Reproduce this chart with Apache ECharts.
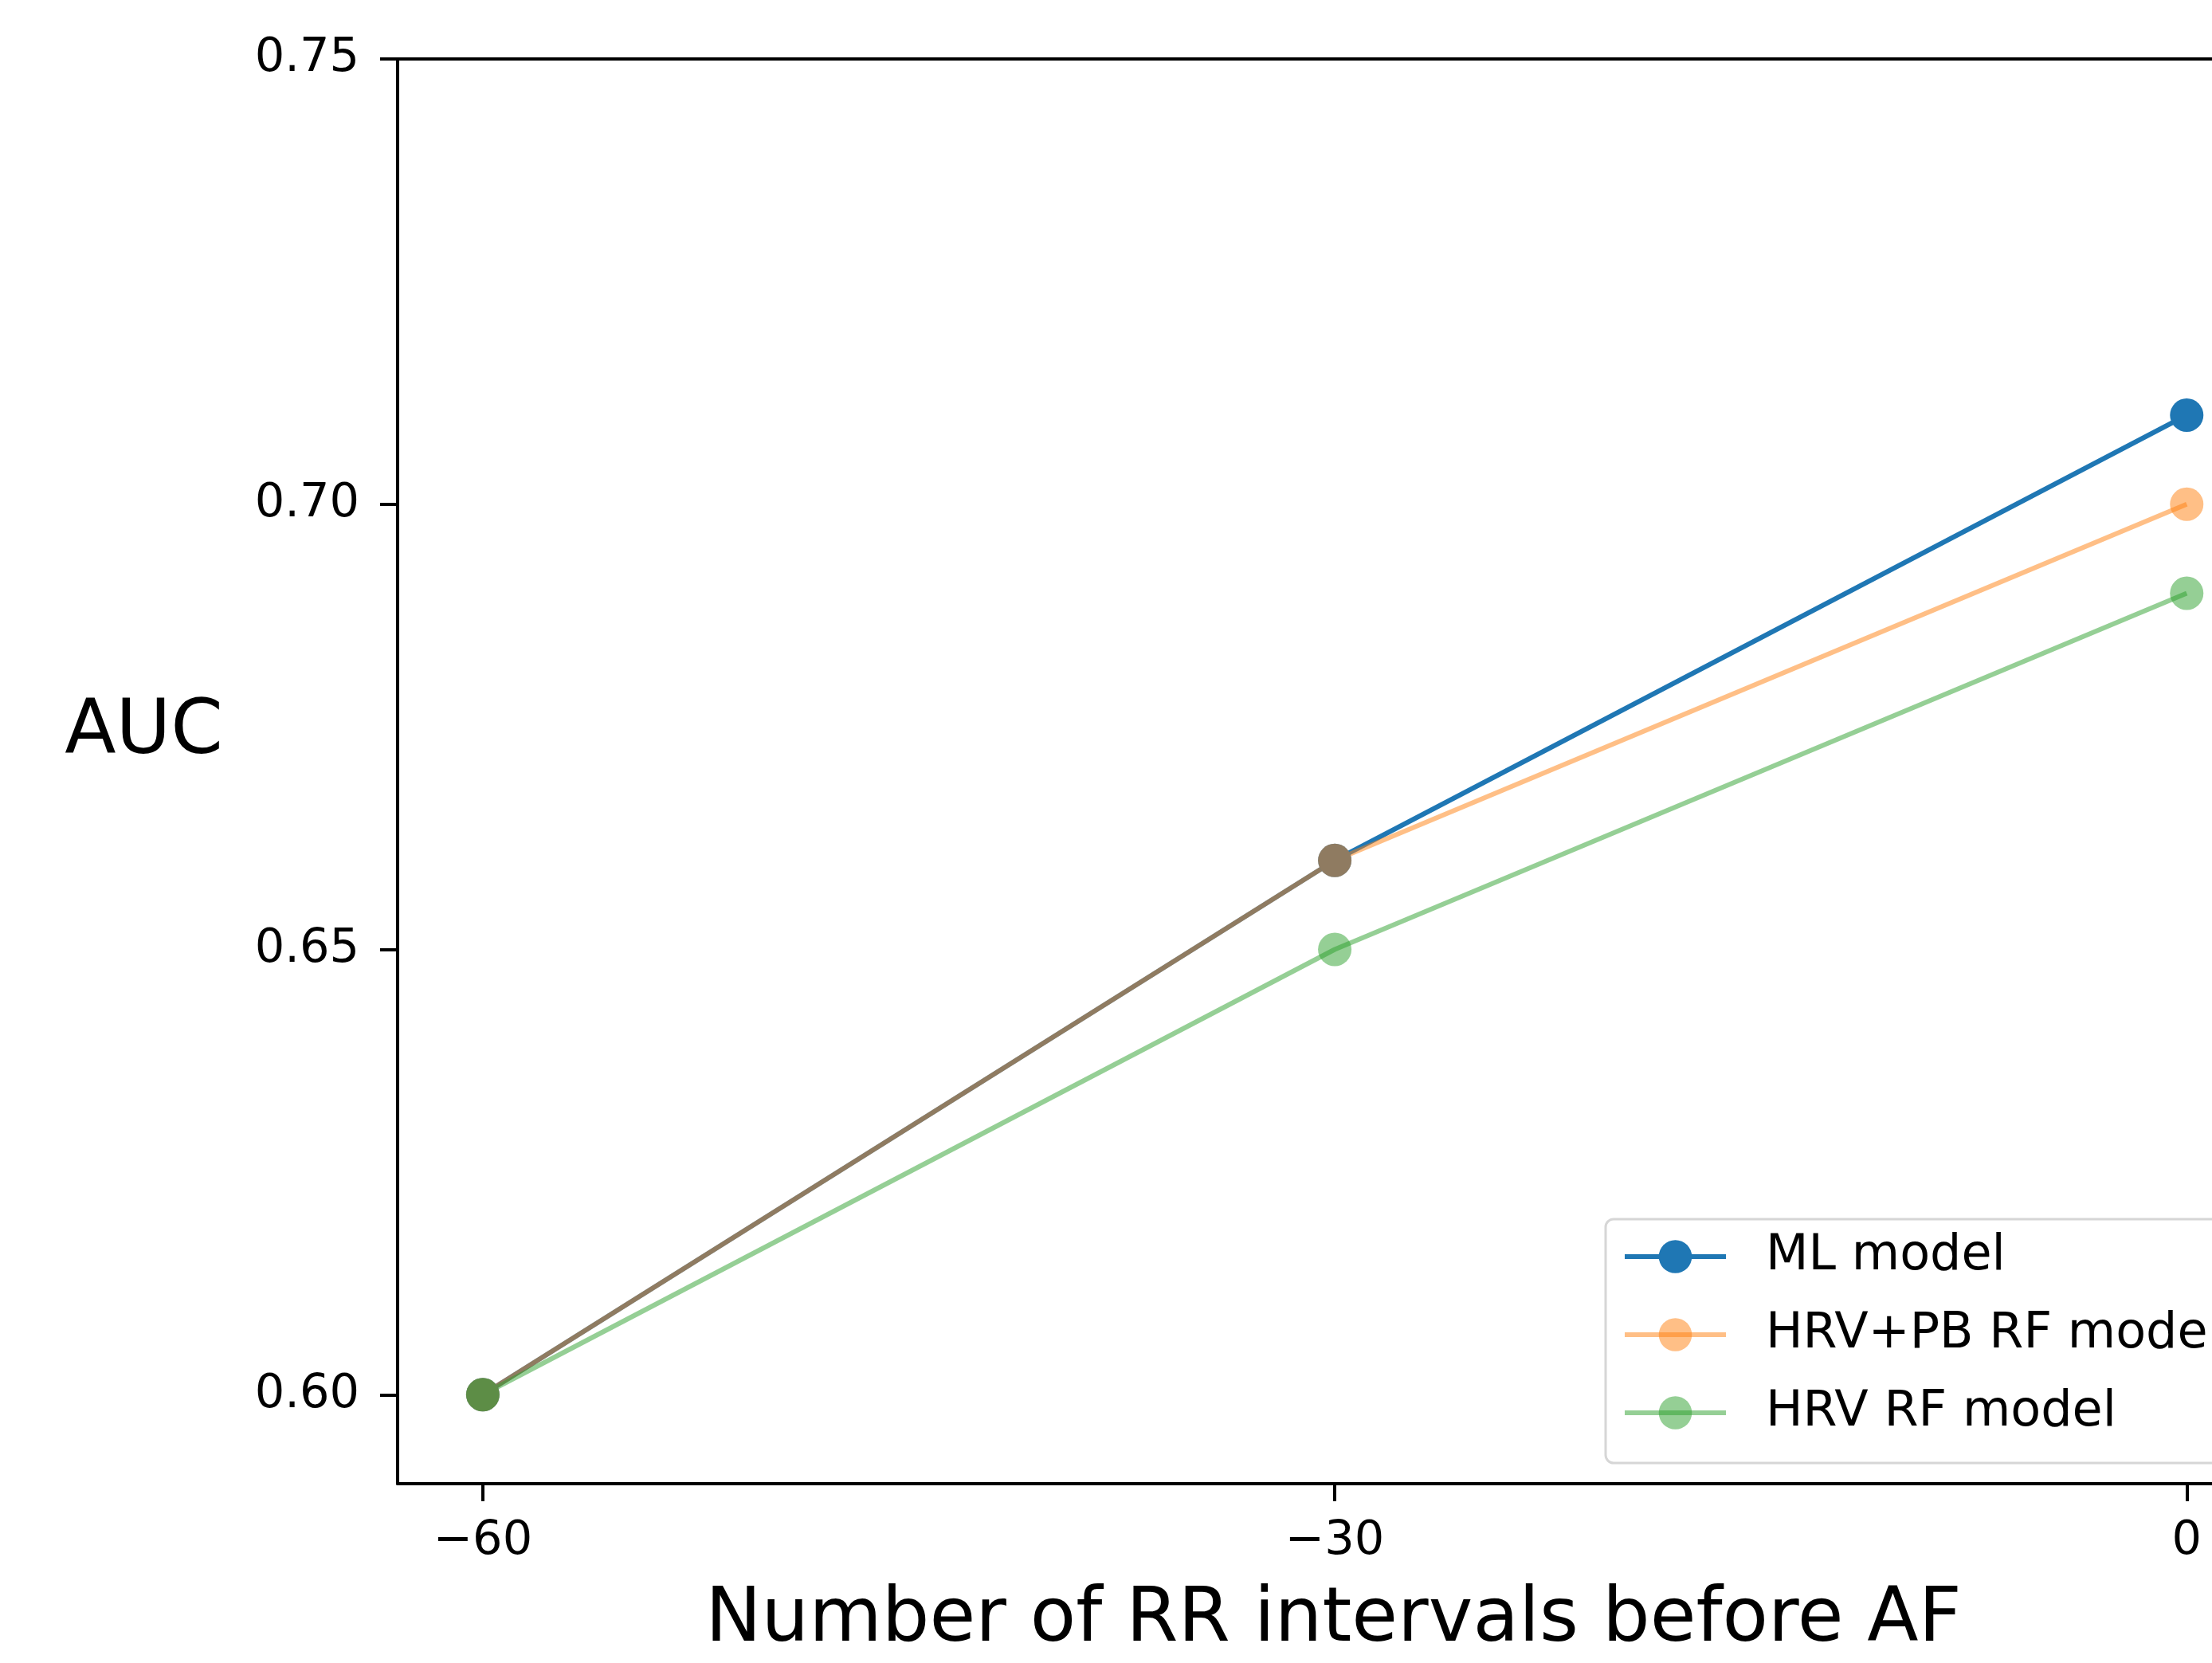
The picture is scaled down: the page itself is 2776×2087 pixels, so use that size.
<!DOCTYPE html>
<html>
<head>
<meta charset="utf-8">
<script src="https://cdn.jsdelivr.net/npm/echarts@6/dist/echarts.min.js"></script>
<style>
  html, body { margin: 0; padding: 0; background: #fff; }
  #chart { width: 2776px; height: 2087px; }
</style>
</head>
<body>
<div id="chart"></div>
<script>
// data
var rrBefore = [-60, -30, 0];
var mlModel = [0.60, 0.66, 0.71];
var hrvPbModel = [0.60, 0.66, 0.70];
var hrvModel = [0.60, 0.65, 0.69];
var seriesNames = ['ML model', 'HRV+PB RF model', 'HRV RF model'];
var xTicks = [-60, -30, 0];
var yTicks = [0.60, 0.65, 0.70, 0.75];

var FONT = 'DejaVu Sans';

function pairs(ys) {
  return rrBefore.map(function (x, i) { return [x, ys[i]]; });
}

function makeSeries(name, ys, color, alpha) {
  return {
    name: name,
    type: 'line',
    data: pairs(ys),
    symbol: 'circle',
    symbolSize: 42,
    lineStyle: { color: color, width: 6, opacity: alpha },
    itemStyle: { color: color, opacity: alpha },
    emphasis: { disabled: true }
  };
}

var myChart = echarts.init(document.getElementById('chart'));

// the original figure is cut off on the right, so the axis stops at ~0.89
// and there is no right spine; the top spine is a second, bare x axis
var options = {
  animation: false,
  backgroundColor: '#fff',
  grid: {
    left: 499,
    top: 74,
    right: 0,
    bottom: 2087 - 1862
  },
  legend: {
    orient: 'vertical',
    left: 2015,
    top: 1530,
    padding: [16, 80, 32, 21],
    itemWidth: 127,
    itemHeight: 52,
    itemGap: 36,
    borderColor: '#d6d6d6',
    borderWidth: 3,
    borderRadius: 10,
    backgroundColor: 'rgba(255,255,255,0.8)',
    lineStyle: { width: 6 },
    textStyle: {
      fontFamily: FONT,
      fontSize: 62,
      lineHeight: 60,
      color: '#000',
      padding: [0, 0, 0, 45]
    },
    data: seriesNames
  },
  xAxis: [{
    type: 'value',
    min: -63,
    max: 0.89,
    name: 'Number of RR intervals before AF',
    nameLocation: 'middle',
    nameGap: 126,
    nameTextStyle: { fontFamily: FONT, fontSize: 94, color: '#000', padding: [0, 0, 0, 72] },
    axisLine: { show: true, onZero: false, lineStyle: { color: '#000', width: 4 } },
    axisTick: { show: true, length: 22, lineStyle: { color: '#000', width: 4 }, customValues: xTicks },
    axisLabel: {
      fontFamily: FONT, fontSize: 59, color: '#000', margin: 43,
      customValues: xTicks,
      formatter: function (v) { return String(v).replace('-', '\u2212'); }
    },
    splitLine: { show: false }
  }, {
    type: 'value',
    position: 'top',
    min: -63,
    max: 0.89,
    axisLine: { show: true, onZero: false, lineStyle: { color: '#000', width: 4 } },
    axisTick: { show: false },
    axisLabel: { show: false },
    splitLine: { show: false }
  }],
  yAxis: {
    type: 'value',
    min: 0.59,
    max: 0.75,
    name: 'AUC',
    nameLocation: 'middle',
    nameRotate: 0,
    nameGap: 219,
    nameTextStyle: { fontFamily: FONT, fontSize: 94, color: '#000', align: 'right', verticalAlign: 'bottom' },
    axisLine: { show: true, onZero: false, lineStyle: { color: '#000', width: 4 } },
    axisTick: { show: true, length: 22, lineStyle: { color: '#000', width: 4 }, customValues: yTicks },
    axisLabel: {
      fontFamily: FONT, fontSize: 59, color: '#000', margin: 48,
      customValues: yTicks,
      formatter: function (v) { return v.toFixed(2); }
    },
    splitLine: { show: false }
  },
  series: [
    makeSeries(seriesNames[0], mlModel, '#1f77b4', 1),
    makeSeries(seriesNames[1], hrvPbModel, '#ff7f0e', 0.5),
    makeSeries(seriesNames[2], hrvModel, '#2ca02c', 0.5)
  ]
};

myChart.setOption(options, true);
</script>
</body>
</html>
